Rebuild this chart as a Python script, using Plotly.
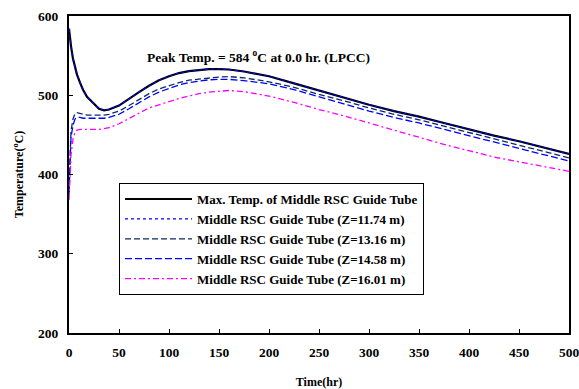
import plotly.graph_objects as go

# ---- data ----
time_hr = [0, 1, 2, 4, 6, 8, 11, 14, 18, 24, 30, 35, 40, 50, 60, 70, 80, 90, 100,
           110, 120, 130, 140, 150, 160, 175, 200, 225, 250, 275, 300, 325, 350,
           375, 400, 425, 450, 475, 500]

max_temp = [584, 572, 562, 546, 535, 526, 516, 507, 498, 490, 483, 481, 482, 487,
            496, 504, 512, 519, 524, 528, 530.5, 532, 533, 533, 532.5, 530, 524,
            515, 506, 497, 488, 480, 473, 465, 457, 449, 442, 434, 426]

z1174 = [584, 572, 562, 546, 535, 526, 516, 507, 498, 490, 483, 481, 482, 487,
         496, 504, 512, 519, 524, 528, 530.5, 532, 533, 533, 532.5, 530, 524,
         515, 506, 497, 488, 480, 473, 465, 457, 449, 442, 434, 426]

z1316 = [378, 430, 455, 470, 477, 478, 477, 476, 475, 475, 475, 475, 476, 480,
         487, 495, 502, 508, 512, 516, 519, 520.5, 521.5, 523, 523.5, 522, 517,
         510, 501, 493, 484, 476, 469, 461, 453, 445, 437, 429, 421]

z1458 = [375, 422, 447, 462, 470, 472, 472, 471, 471, 471, 471, 471, 472, 476,
         483, 491, 498, 504, 509, 513, 516, 518, 519.5, 520, 520, 518.5, 514.5,
         507, 498, 489, 480, 472, 465, 457, 449, 441, 433, 425, 417]

z1601 = [368, 400, 425, 445, 453, 456, 457, 457, 457, 457, 457, 458, 459, 464,
         471, 478, 484, 488, 492, 496, 499, 502, 504, 505, 506, 504.5, 499,
         491, 482, 474, 465, 456, 447, 438, 430, 422, 416, 410, 404]

series_names = [
    "Max. Temp. of Middle RSC Guide Tube",
    "Middle RSC Guide Tube (Z=11.74 m)",
    "Middle RSC Guide Tube (Z=13.16 m)",
    "Middle RSC Guide Tube (Z=14.58 m)",
    "Middle RSC Guide Tube (Z=16.01 m)",
]

x_ticks = [0, 50, 100, 150, 200, 250, 300, 350, 400, 450, 500]
y_ticks = [200, 300, 400, 500, 600]

FONT = "Liberation Serif"

fig = go.Figure()
fig.add_trace(go.Scatter(x=time_hr, y=max_temp, mode="lines", name=series_names[0],
                         legendrank=1, line=dict(color="black", width=2.2)))
fig.add_trace(go.Scatter(x=time_hr, y=z1316, mode="lines", name=series_names[2],
                         legendrank=3, line=dict(color="#0a2a66", width=1.3, dash="6px,3px")))
fig.add_trace(go.Scatter(x=time_hr, y=z1458, mode="lines", name=series_names[3],
                         legendrank=4, line=dict(color="#0000ff", width=1.3, dash="7px,3px")))
fig.add_trace(go.Scatter(x=time_hr, y=z1601, mode="lines", name=series_names[4],
                         legendrank=5, line=dict(color="#ff00ff", width=1.3, dash="6px,3px,2px,3px")))
fig.add_trace(go.Scatter(x=time_hr, y=z1174, mode="lines", name=series_names[1],
                         legendrank=2, line=dict(color="#0000ff", width=1.3, dash="dot")))

fig.update_layout(
    width=579, height=389,
    margin=dict(l=69, r=10, t=16, b=56),
    paper_bgcolor="white", plot_bgcolor="white",
    font=dict(family=FONT, size=12, color="black", weight="bold"),
    showlegend=True,
    legend=dict(
        x=0.1, y=0.473, xanchor="left", yanchor="top",
        bgcolor="white", bordercolor="black", borderwidth=1,
        font=dict(family=FONT, size=13, color="black", weight="bold"),
        itemwidth=67,
        entrywidth=260, entrywidthmode="pixels",
        tracegroupgap=0,
    ),
    xaxis=dict(
        range=[0, 500], tickvals=x_ticks, ticktext=[str(v) for v in x_ticks],
        showgrid=False, zeroline=False, showline=True, mirror=True,
        linecolor="black", linewidth=2, ticks="inside", ticklen=4,
        tickcolor="black", tickfont=dict(family=FONT, size=13.5, weight="bold"),
        ticklabelstandoff=6, automargin=False, ticklabeloverflow="allow",
        title=dict(text="Time(hr)", font=dict(family=FONT, size=12, weight="bold"),
                   standoff=23),
    ),
    yaxis=dict(
        range=[200, 600], tickvals=y_ticks, ticktext=[str(v) for v in y_ticks],
        showgrid=False, zeroline=False, showline=True, mirror=True,
        linecolor="black", linewidth=2, ticks="inside", ticklen=4,
        tickcolor="black", tickfont=dict(family=FONT, size=13.5, weight="bold"),
        ticklabelstandoff=6, automargin=False, ticklabeloverflow="allow",
        title=dict(text="Temperature(<sup>o</sup>C)",
                   font=dict(family=FONT, size=12, weight="bold"), standoff=12),
    ),
    annotations=[dict(
        x=189.5, y=548.6, xref="x", yref="y",
        text="Peak Temp. = 584 <sup>o</sup>C at 0.0 hr. (LPCC)",
        showarrow=False, font=dict(family=FONT, size=13.5, weight="bold"),
    )],
)

fig.write_html("out.html", config={"displayModeBar": False},
               post_script="document.body.style.margin='0';document.body.style.padding='0';")
